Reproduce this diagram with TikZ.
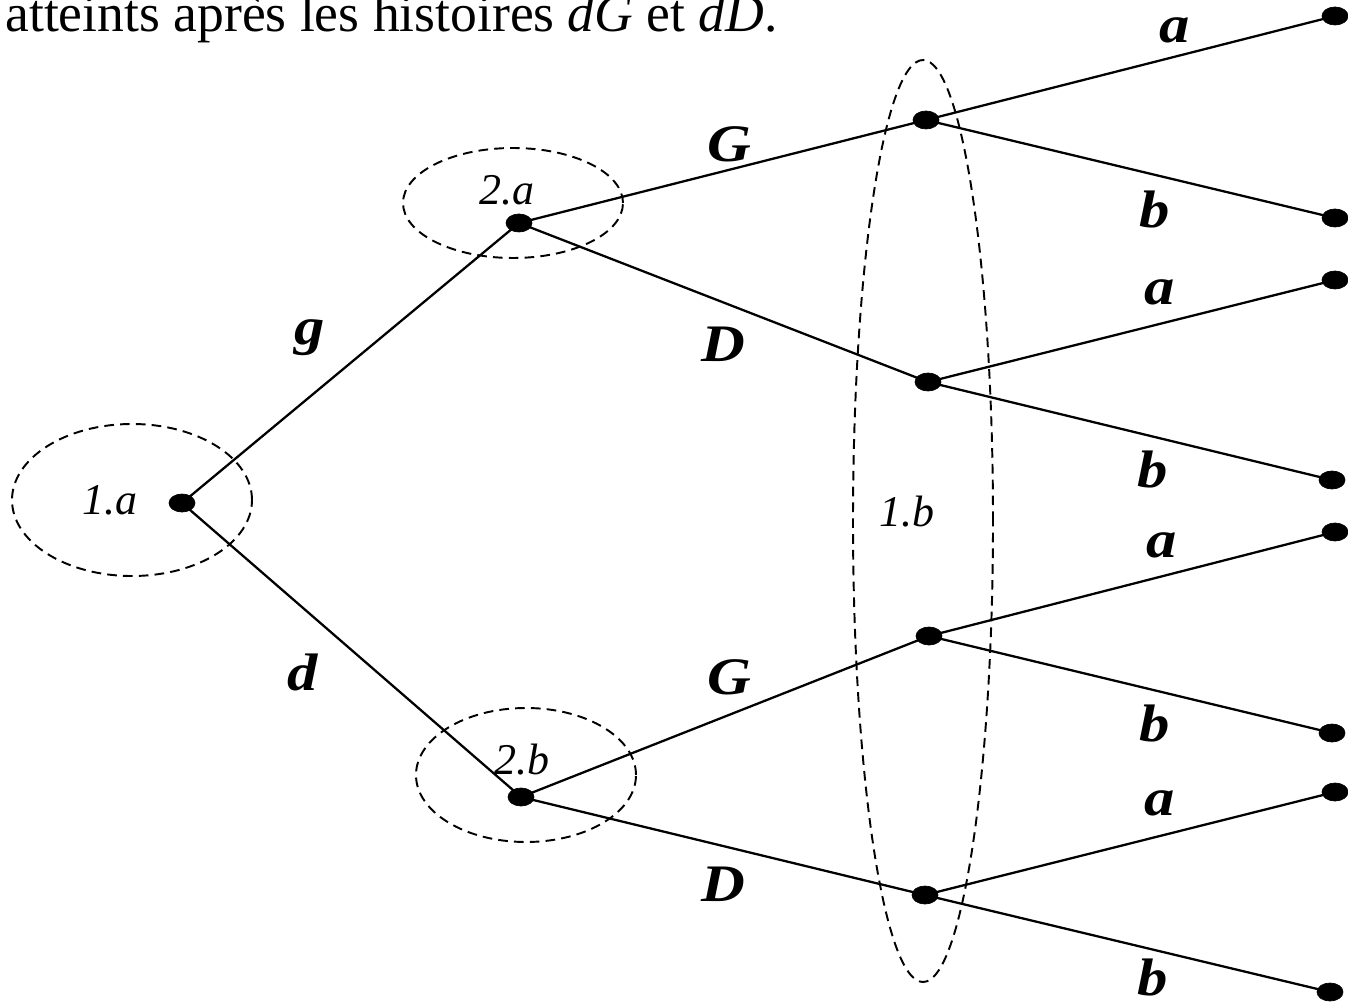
\documentclass[tikz,border=0pt]{standalone}
\usepackage{fontspec}
\setmainfont{Liberation Serif}
\usepackage{tikz}
\usetikzlibrary{calc,shapes.geometric,positioning}
\tikzset{
myDot/.style={
	ellipse,draw,fill=black,
	inner sep=0pt,minimum width=5.2mm,minimum height=3.6mm
}
, myInfo/.style={
	dash pattern=on 5.5pt off 3.5pt, line width=1.1pt
}
, myName/.style={
	font=\fontsize{25}{27}\selectfont\itshape, inner sep=0pt
}
, myMove/.style={
	font=\fontsize{30}{32}\selectfont\bfseries\itshape, inner sep=0pt,
	xscale=1.15, transform shape
}
% link
, myEdge/.style={line width=1.3pt}
}

\begin{document}
\begin{tikzpicture}
	\useasboundingbox (0,0) rectangle (26.96,-20.04);
	% text line cut at the top
	\node[anchor=base west, inner sep=0pt, font=\fontsize{30.5}{32}\selectfont] (Txt) at (0.1,-0.64)
		{atteints après les histoires \textit{dG} et \textit{dD}.};
	% information sets
	\draw[myInfo] (2.64,-10.00) ellipse (2.40 and 1.52);
	\draw[myInfo] (10.26,-4.06) ellipse (2.20 and 1.10);
	\draw[myInfo] (10.52,-15.50) ellipse (2.20 and 1.34);
	\draw[myInfo] (18.46,-10.42) ellipse (1.40 and 9.22);
	% nodes
	\node[myDot] (R) at (3.64,-10.06) {};
	\node[myDot] (Ag) at (10.38,-4.46) {};
	\node[myDot] (Ad) at (10.42,-15.94) {};
	\node[myDot] (BgG) at (18.52,-2.40) {};
	\node[myDot] (BgD) at (18.56,-7.64) {};
	\node[myDot] (BdG) at (18.58,-12.72) {};
	\node[myDot] (BdD) at (18.50,-17.90) {};
	% leaves
	\node[myDot] (L1) at (26.70,-0.32) {};
	\node[myDot] (L2) at (26.70,-4.36) {};
	\node[myDot] (L3) at (26.70,-5.60) {};
	\node[myDot] (L4) at (26.64,-9.60) {};
	\node[myDot] (L5) at (26.70,-10.64) {};
	\node[myDot] (L6) at (26.64,-14.66) {};
	\node[myDot] (L7) at (26.70,-15.84) {};
	\node[myDot] (L8) at (26.60,-19.84) {};
	% player names
	\node[myName] (N1a) at (2.20,-10.00) {1.a};
	\node[myName] (N2a) at (10.14,-3.80) {2.a};
	\node[myName] (N2b) at (10.44,-15.20) {2.b};
	\node[myName] (N1b) at (18.14,-10.24) {1.b};

	% links
	\draw [myEdge] (R.center) -- (Ag.center);
	\draw [myEdge] (R.center) -- (Ad.center);
	\draw [myEdge] (Ag.center) -- (BgG.center);
	\draw [myEdge] (Ag.center) -- (BgD.center);
	\draw [myEdge] (Ad.center) -- (BdG.center);
	\draw [myEdge] (Ad.center) -- (BdD.center);
	\draw [myEdge] (BgG.center) -- (L1.center);
	\draw [myEdge] (BgG.center) -- (L2.center);
	\draw [myEdge] (BgD.center) -- (L3.center);
	\draw [myEdge] (BgD.center) -- (L4.center);
	\draw [myEdge] (BdG.center) -- (L5.center);
	\draw [myEdge] (BdG.center) -- (L6.center);
	\draw [myEdge] (BdD.center) -- (L7.center);
	\draw [myEdge] (BdD.center) -- (L8.center);

	% moves
	\node[myMove] (Mg) at (6.20,-6.76) {g};
	\node[myMove] (Md) at (6.06,-13.44) {d};
	\node[myMove] (MG1) at (14.58,-2.88) {G};
	\node[myMove] (MD1) at (14.46,-6.88) {D};
	\node[myMove] (MG2) at (14.58,-13.54) {G};
	\node[myMove] (MD2) at (14.46,-17.68) {D};
	\node[myMove] (Ma1) at (23.50,-0.60) {a};
	\node[myMove] (Mb1) at (23.10,-4.20) {b};
	\node[myMove] (Ma2) at (23.20,-5.84) {a};
	\node[myMove] (Mb2) at (23.06,-9.40) {b};
	\node[myMove] (Ma3) at (23.24,-10.90) {a};
	\node[myMove] (Mb3) at (23.10,-14.48) {b};
	\node[myMove] (Ma4) at (23.20,-16.06) {a};
	\node[myMove] (Mb4) at (23.06,-19.54) {b};
\end{tikzpicture}
\end{document}
